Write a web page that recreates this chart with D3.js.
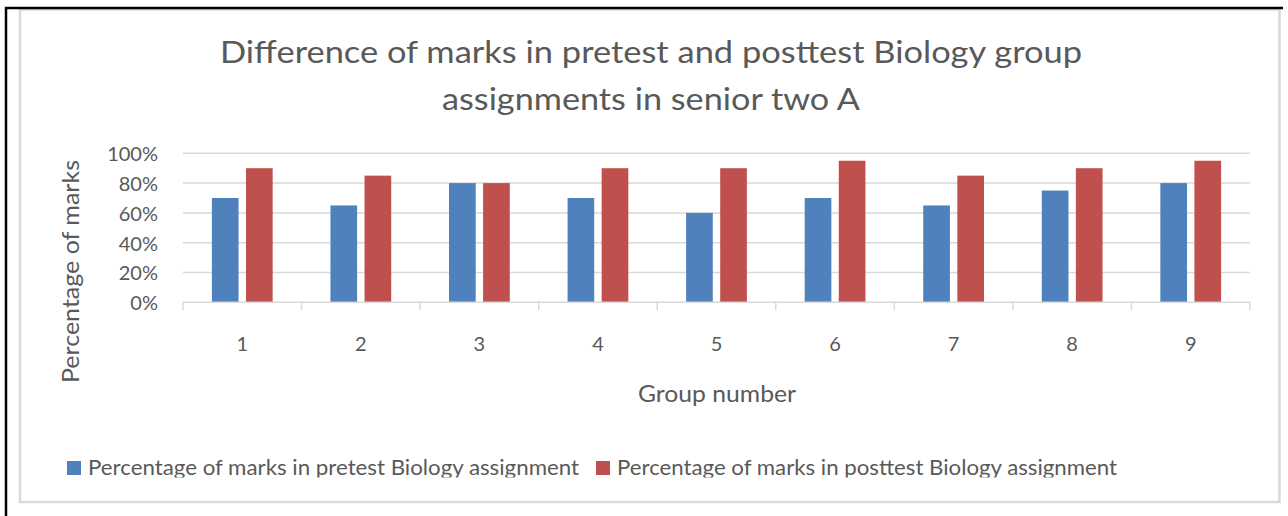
<!DOCTYPE html>
<html><head><meta charset="utf-8">
<script src="https://cdn.jsdelivr.net/npm/d3@7"></script>
<style>body{margin:0;background:#fff}svg{display:block}</style>
</head><body>
<svg id="c" width="1288" height="516"></svg>
<script>
const categories = ["1","2","3","4","5","6","7","8","9"];
const pretest = [70,65,80,70,60,70,65,75,80];
const posttest = [90,85,80,90,90,95,85,90,95];
const yTicks = [0,20,40,60,80,100];
const seriesNames = ["Percentage of marks in pretest Biology assignment","Percentage of marks in posttest Biology assignment"];
const colors = ["#4F81BD","#C0504D"];
const titleLines = ["Difference of marks in pretest and posttest Biology group","assignments in senior two A"];

const svg = d3.select("#c");
const font = "Lato, 'Open Sans', sans-serif";
const txt = "#595959";

// frame
svg.append("rect").attr("x",20).attr("y",9.5).attr("width",1259.5).attr("height",492.5)
  .attr("fill","#fff").attr("stroke","#D9D9D9").attr("stroke-width",2.5);
svg.append("line").attr("x1",5).attr("x2",1283).attr("y1",8).attr("y2",8).attr("stroke","#000").attr("stroke-width",2.5);
svg.append("line").attr("x1",6).attr("x2",6).attr("y1",7).attr("y2",516).attr("stroke","#000").attr("stroke-width",2.5);

const x0 = d3.scaleBand().domain(categories).range([183,1250]).paddingInner(0).paddingOuter(0);
const y = d3.scaleLinear().domain([0,100]).range([302.3,153.3]);

// gridlines
svg.append("g").selectAll("line").data(yTicks.slice(1)).join("line")
  .attr("x1",183).attr("x2",1250).attr("y1",d=>y(d)).attr("y2",d=>y(d))
  .attr("stroke","#D9D9D9").attr("stroke-width",1.5);

// bars
const bw = x0.bandwidth()*0.225, gap = x0.bandwidth()*0.0625;
const g = svg.append("g");
categories.forEach((c,i)=>{
  const cx = x0(c)+x0.bandwidth()/2;
  [pretest[i],posttest[i]].forEach((v,j)=>{
    const xx = j===0 ? cx-gap/2-bw : cx+gap/2;
    g.append("rect").attr("x",xx).attr("y",y(v)).attr("width",bw).attr("height",y(0)-y(v))
      .attr("fill",colors[j]);
  });
});

// x axis
svg.append("line").attr("x1",183).attr("x2",1250).attr("y1",y(0)).attr("y2",y(0)).attr("stroke","#D9D9D9").attr("stroke-width",1.5);
const bounds = categories.map(c=>x0(c)).concat([1250]);
svg.append("g").selectAll("line").data(bounds).join("line")
  .attr("x1",d=>d).attr("x2",d=>d).attr("y1",y(0)).attr("y2",y(0)+8)
  .attr("stroke","#D9D9D9").attr("stroke-width",1.5);
svg.append("g").selectAll("text").data(categories).join("text")
  .attr("x",d=>x0(d)+x0.bandwidth()/2).attr("y",350.7).attr("text-anchor","middle")
  .attr("font-family",font).attr("font-size",20).attr("fill",txt).text(d=>d);

// y axis labels
const ya = svg.append("g").attr("transform","translate(158,0)")
  .call(d3.axisLeft(y).tickValues(yTicks).tickSize(0).tickPadding(0).tickFormat(d=>d+"%"));
ya.select(".domain").remove();
ya.selectAll("text").attr("font-family",font).attr("font-size",20).attr("fill",txt).attr("dy",7.4);

// axis titles
svg.append("text").attr("transform","translate(79,271.5) rotate(-90)").attr("text-anchor","middle")
  .attr("font-family",font).attr("font-size",23).attr("fill",txt)
  .attr("textLength",223).attr("lengthAdjust","spacingAndGlyphs").text("Percentage of marks");
svg.append("text").attr("x",717).attr("y",401.5).attr("text-anchor","middle")
  .attr("font-family",font).attr("font-size",23).attr("fill",txt)
  .attr("textLength",158).attr("lengthAdjust","spacingAndGlyphs").text("Group number");

// title
svg.append("text").attr("x",651).attr("y",62.5).attr("text-anchor","middle")
  .attr("font-family",font).attr("font-size",31.5).attr("fill",txt)
  .attr("textLength",862).attr("lengthAdjust","spacingAndGlyphs").text(titleLines[0]);
svg.append("text").attr("x",651).attr("y",109.5).attr("text-anchor","middle")
  .attr("font-family",font).attr("font-size",31.5).attr("fill",txt)
  .attr("textLength",418).attr("lengthAdjust","spacingAndGlyphs").text(titleLines[1]);

// legend
svg.append("clipPath").attr("id","lc").append("rect").attr("x",0).attr("y",440).attr("width",1288).attr("height",37.5);
const lg = svg.append("g").attr("clip-path","url(#lc)");
const legX = [67,596], legTX = [88,617], legW=[491,500];
seriesNames.forEach((n,i)=>{
  lg.append("rect").attr("x",legX[i]).attr("y",461).attr("width",14).attr("height",14).attr("fill",colors[i]);
  lg.append("text").attr("x",legTX[i]).attr("y",475).attr("font-family",font).attr("font-size",21).attr("fill",txt)
    .attr("textLength",legW[i]).attr("lengthAdjust","spacingAndGlyphs").text(n);
});
</script>
</body></html>
